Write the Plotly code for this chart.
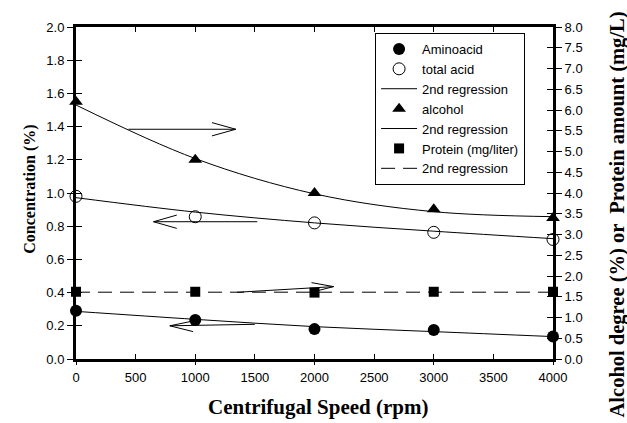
import plotly.graph_objects as go

# ---------------- data ----------------
speed = [0, 1000, 2000, 3000, 4000]
aminoacid = [0.29, 0.235, 0.18, 0.175, 0.135]
total_acid = [0.98, 0.857, 0.82, 0.763, 0.72]
alcohol = [6.2, 4.8, 4.0, 3.61, 3.4]            # right axis
protein = [1.62, 1.62, 1.60, 1.62, 1.62]        # right axis
amino_fit = [0.287, 0.239, 0.195, 0.165, 0.135]
acid_fit = [0.972, 0.885, 0.82, 0.77, 0.725]
alcohol_fit = [6.12, 4.83, 3.98, 3.55, 3.43]
protein_fit = [1.61, 1.61, 1.61, 1.61, 1.61]

x_ticks = [0, 500, 1000, 1500, 2000, 2500, 3000, 3500, 4000]
x_major = [0, 1000, 2000, 3000, 4000]

# arrows: (tail_x, tail_y, tip_x, tip_y, upper_arm_x, upper_arm_y, lower_arm_x, lower_arm_y) in left-axis units
arrows = [
    (440, 1.384, 1340, 1.384, 1140, 1.424, 1140, 1.344),
    (1520, 0.827, 650, 0.827, 845, 0.867, 845, 0.787),
    (1350, 0.402, 2160, 0.436, 1975, 0.46, 1990, 0.405),
    (1500, 0.209, 787, 0.200, 982, 0.229, 982, 0.165),
]

FONT = "Liberation Sans"
SERIF = "Liberation Serif"

fig = go.Figure()

# data traces (legend order)
fig.add_trace(go.Scatter(x=speed, y=aminoacid, mode="markers", name="Aminoacid",
                         marker=dict(symbol="circle", size=12, color="black"),
                         cliponaxis=False))
fig.add_trace(go.Scatter(x=speed, y=total_acid, mode="markers", name="total acid",
                         marker=dict(symbol="circle", size=12, color="white",
                                     line=dict(color="black", width=1)),
                         cliponaxis=False))
fig.add_trace(go.Scatter(x=speed, y=acid_fit, mode="lines", name="2nd regression",
                         line=dict(color="black", width=1, shape="spline")))
fig.add_trace(go.Scatter(x=speed, y=amino_fit, mode="lines", showlegend=False,
                         line=dict(color="black", width=1, shape="spline")))
fig.add_trace(go.Scatter(x=speed, y=alcohol, mode="markers", name="alcohol", yaxis="y2",
                         marker=dict(symbol="triangle-up", size=12, color="black"),
                         cliponaxis=False))
fig.add_trace(go.Scatter(x=speed, y=alcohol_fit, mode="lines", name="2nd regression", yaxis="y2",
                         line=dict(color="black", width=1, shape="spline")))
fig.add_trace(go.Scatter(x=speed, y=protein, mode="markers", name="Protein (mg/liter)", yaxis="y2",
                         marker=dict(symbol="square", size=10, color="black"),
                         cliponaxis=False))
fig.add_trace(go.Scatter(x=speed, y=protein_fit, mode="lines", name="2nd regression", yaxis="y2",
                         line=dict(color="black", width=1, dash="14px,8px")))

# dummy traces to activate the tick-only overlay axes
fig.add_trace(go.Scatter(x=[None], y=[None], xaxis="x2", yaxis="y", showlegend=False, hoverinfo="skip"))
fig.add_trace(go.Scatter(x=[None], y=[None], yaxis="y3", showlegend=False, hoverinfo="skip"))
fig.add_trace(go.Scatter(x=[None], y=[None], yaxis="y4", showlegend=False, hoverinfo="skip"))

# arrows drawn as line shapes
shapes = []
for tx, ty, hx, hy, ux, uy, lx, ly in arrows:
    for (x0, y0, x1, y1) in [(tx, ty, hx, hy), (hx, hy, ux, uy), (hx, hy, lx, ly)]:
        shapes.append(dict(type="line", xref="x", yref="y", x0=x0, y0=y0, x1=x1, y1=y1,
                           line=dict(color="black", width=1)))

tickfont = dict(family=FONT, size=13, color="black")

fig.update_layout(
    width=627, height=423,
    margin=dict(l=76, r=74, t=27, b=64),
    paper_bgcolor="white", plot_bgcolor="white",
    showlegend=True,
    legend=dict(x=0.627, y=0.982, xanchor="left", yanchor="top",
                bgcolor="white", bordercolor="black", borderwidth=1,
                font=dict(family=FONT, size=13, color="black"),
                traceorder="normal", tracegroupgap=0, itemwidth=36),
    xaxis=dict(range=[0, 4000], tickvals=x_ticks, ticks="inside", ticklen=5, tickwidth=1,
               tickcolor="black", showline=True, linewidth=3, linecolor="black",
               mirror="ticks", showgrid=False, zeroline=False, tickfont=tickfont,
               ticklabelstandoff=4),
    xaxis2=dict(range=[0, 4000], overlaying="x", anchor="y", side="bottom", tickvals=x_major,
                ticks="outside", ticklen=5, tickwidth=1, tickcolor="black",
                showticklabels=False, showline=False, showgrid=False, zeroline=False),
    yaxis=dict(range=[0, 2], dtick=0.2, tickformat=".1f", ticks="outside", ticklen=6,
               tickwidth=1, tickcolor="black", showline=True, linewidth=3, linecolor="black",
               showgrid=False, zeroline=False, tickfont=tickfont),
    yaxis2=dict(range=[0, 8], dtick=0.5, tickformat=".1f", overlaying="y", side="right",
                ticks="outside", ticklen=6, tickwidth=1, tickcolor="black", showline=True,
                linewidth=3, linecolor="black", showgrid=False, zeroline=False, tickfont=tickfont),
    yaxis3=dict(range=[0, 2], dtick=0.2, overlaying="y", side="left", ticks="inside", ticklen=6,
                tickwidth=1, tickcolor="black", showticklabels=False, showline=False,
                showgrid=False, zeroline=False),
    yaxis4=dict(range=[0, 8], dtick=0.5, overlaying="y", side="right", ticks="inside", ticklen=6,
                tickwidth=1, tickcolor="black", showticklabels=False, showline=False,
                showgrid=False, zeroline=False),
    shapes=shapes,
    annotations=[
        dict(text="Concentration (%)", xref="paper", yref="paper", x=-0.0964, y=0.51,
             xanchor="center", yanchor="middle", textangle=-90, showarrow=False,
             font=dict(family=SERIF, size=16, color="black", weight="bold")),
        dict(text="Alcohol degree (%) or  Protein amount (mg/L)", xref="paper", yref="paper",
             x=1.136, y=0.435, xanchor="center", yanchor="middle", textangle=-90, showarrow=False,
             font=dict(family=SERIF, size=20.5, color="black", weight="bold")),
        dict(text="Centrifugal Speed (rpm)", xref="paper", yref="paper", x=0.507, y=-0.145,
             xanchor="center", yanchor="middle", showarrow=False,
             font=dict(family=SERIF, size=21, color="black", weight="bold")),
    ],
)

fig.write_html("out.html")
